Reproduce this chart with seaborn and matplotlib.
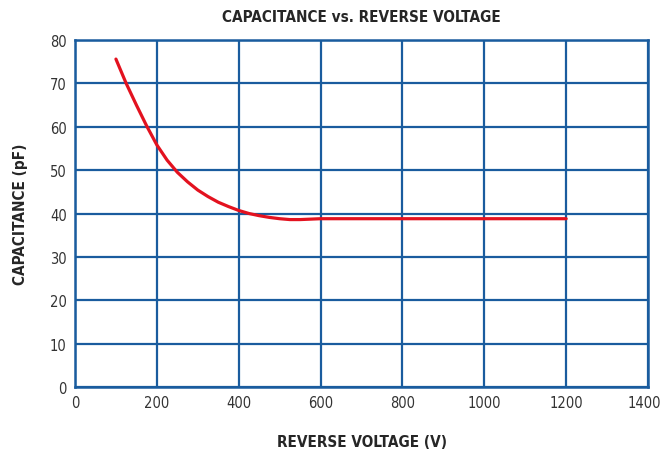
import pandas as pd
import matplotlib.pyplot as plt
import matplotlib.transforms as mtransforms
import seaborn as sns

# values
voltage = [100, 125, 150, 175, 200, 225, 250, 275, 300, 325, 350, 375, 400, 425, 450, 475,
           500, 525, 550, 575, 600, 700, 800, 900, 1000, 1100, 1200]
capacitance = [75.6, 70.0, 65.0, 60.2, 55.8, 52.3, 49.5, 47.3, 45.4, 43.9, 42.6, 41.6, 40.7, 40.0, 39.5, 39.1,
               38.8, 38.6, 38.6, 38.7, 38.8, 38.8, 38.8, 38.8, 38.8, 38.8, 38.8]

df = pd.DataFrame({"voltage": voltage, "capacitance": capacitance})

sns.set_style("white")
plt.rcParams["font.family"] = ["DejaVu Sans"]
plt.rcParams["font.stretch"] = "condensed"

blue = "#1a5c9e"
red = "#e3121f"

fig = plt.figure(figsize=(6.62, 4.56), dpi=100)
ax = fig.add_axes([0.1133, 0.1491, 0.8656, 0.7610])

sns.lineplot(data=df, x="voltage", y="capacitance", color=red, linewidth=2.3, ax=ax, zorder=3)

ax.set_xlim(0, 1400)
ax.set_ylim(0, 80)
ax.set_xticks(range(0, 1401, 200))
ax.set_yticks(range(0, 81, 10))
ax.grid(True, color=blue, linewidth=1.6)
for s in ax.spines.values():
    s.set_color(blue)
    s.set_linewidth(1.8)
ax.tick_params(length=0, labelsize=10.5, labelcolor="#333333", pad=6)
for lab in ax.get_xticklabels() + ax.get_yticklabels():
    lab.set_fontstretch("condensed")

# nudge the last x label so it stays inside the picture
last = ax.get_xticklabels()[-1]
last.set_transform(last.get_transform() + mtransforms.ScaledTranslation(-4 / 100, 0, fig.dpi_scale_trans))

ax.set_xlabel("REVERSE VOLTAGE (V)", fontsize=11, fontweight="bold", fontstretch="condensed", labelpad=17)
ax.set_ylabel("CAPACITANCE (pF)", fontsize=11, fontweight="bold", fontstretch="condensed", labelpad=16)
fig.suptitle("CAPACITANCE vs. REVERSE VOLTAGE", x=0.546, y=0.978, fontsize=11,
             fontweight="bold", fontstretch="condensed")

fig.savefig("out.png", dpi=100)
